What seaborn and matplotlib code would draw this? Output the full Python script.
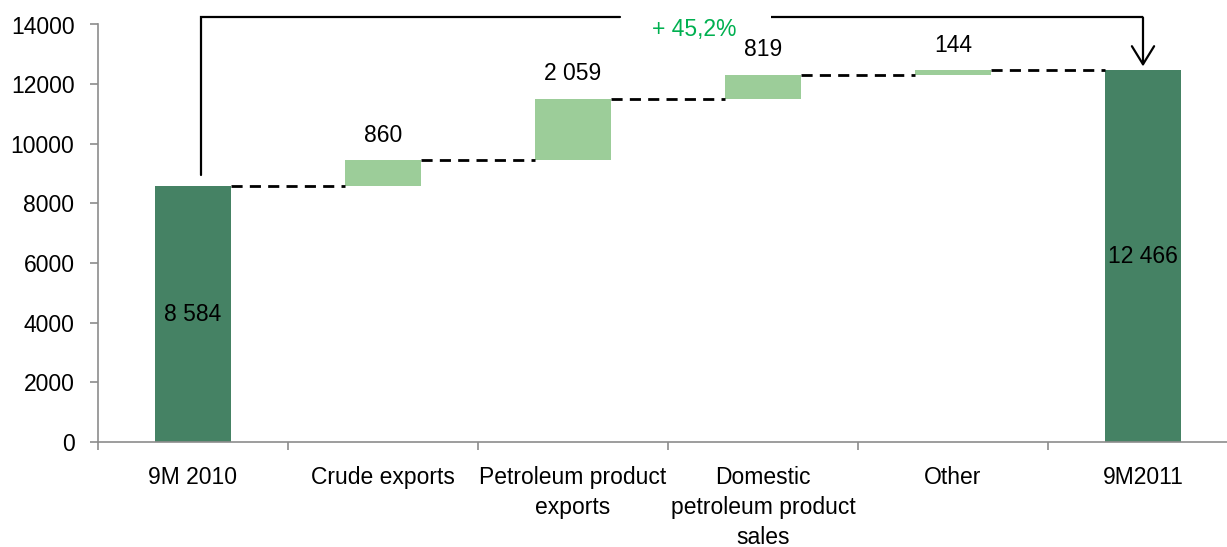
import numpy as np
import pandas as pd
import matplotlib
matplotlib.use("Agg")
import matplotlib.pyplot as plt
from matplotlib.ticker import FixedLocator
import seaborn as sns

# Revenue bridge, 9M 2010 -> 9M 2011
categories = ["9M 2010", "Crude exports", "Petroleum product\nexports",
              "Domestic\npetroleum product\nsales", "Other", "9M2011"]
start_total = 8584
changes = [860, 2059, 819, 144]
end_total = 12466
y_ticks = [0, 2000, 4000, 6000, 8000, 10000, 12000, 14000]

heights = [start_total] + changes + [end_total]
running = np.cumsum([start_total] + changes)          # level after each step
bottoms = [0] + list(running[:-1]) + [0]
is_total = [True] + [False] * len(changes) + [True]

dark_green = "#458264"
light_green = "#9ccd99"
axis_grey = "#8c8c8c"
fs = 16.5

sns.set_style("ticks")
plt.rcParams["font.family"] = ["Liberation Sans", "DejaVu Sans"]
plt.rcParams["font.size"] = fs
plt.rcParams["text.color"] = "black"
plt.rcParams["xtick.labelcolor"] = "black"
plt.rcParams["ytick.labelcolor"] = "black"

df = pd.DataFrame({"category": categories, "value": heights})

fig = plt.figure(figsize=(12.27, 5.47), dpi=100)
ax = fig.add_axes([98 / 1227, 105 / 547, 1140 / 1227, 417.5 / 547])

sns.barplot(data=df, x="category", y="value", order=categories,
            bottom=bottoms, width=0.4, errorbar=None, color=dark_green,
            saturation=1, ax=ax)
for patch, total in zip(ax.patches, is_total):
    patch.set_facecolor(dark_green if total else light_green)
    patch.set_edgecolor("none")

half = 0.2
# dashed connectors between consecutive bars
for i, level in enumerate(running):
    ax.plot([i + half, i + 1 - half], [level, level], color="black",
            lw=2, dashes=(4, 2.6), solid_capstyle="butt")

# value labels
for i, (h, b, total) in enumerate(zip(heights, bottoms, is_total)):
    text = f"{h:,}".replace(",", " ")
    if total:
        ax.text(i, b + h / 2, text, ha="center", va="center", fontsize=fs,
                color="black")
    else:
        ax.annotate(text, xy=(i, b + h), xytext=(0, 18), textcoords="offset points",
                    ha="center", va="center", fontsize=fs, color="black")

# growth bracket from the first total to the last
growth = end_total / start_total - 1
y_top = 14235
x_left, x_right = 0.04, 5.0
ax.plot([x_left, x_left, 2.25], [start_total + 370, y_top, y_top],
        color="black", lw=1.6, clip_on=False, solid_joinstyle="miter")
ax.plot([3.04, x_right], [y_top, y_top], color="black", lw=1.6, clip_on=False,
        solid_capstyle="butt")
ax.annotate("", xy=(x_right, end_total + 130), xytext=(x_right, y_top),
            arrowprops=dict(arrowstyle="->,head_length=1.3,head_width=0.8",
                            mutation_scale=10, lw=1.6, color="black",
                            shrinkA=0, shrinkB=0),
            annotation_clip=False)
ax.text(2.64, 13820, f"+ {growth * 100:.1f}%".replace(".", ","), ha="center",
        va="center", color="#00b050", fontsize=fs, clip_on=False)

# axes styling
ax.set_xlim(-0.5, len(categories) - 0.5)
ax.set_ylim(0, 14000)
ax.set_yticks(y_ticks)
ax.set_yticklabels([str(t) for t in y_ticks])
ax.set_xlabel("")
ax.set_ylabel("")
ax.xaxis.set_minor_locator(FixedLocator(np.arange(-0.5, len(categories) - 0.5, 1.0)))
ax.tick_params(axis="x", which="major", length=0, pad=17, labelsize=fs,
               labelcolor="black")
ax.tick_params(axis="x", which="minor", length=6, width=1.2, color=axis_grey)
ax.tick_params(axis="y", length=6, width=1.2, color=axis_grey, pad=11,
               labelsize=fs, labelcolor="black")
for lbl in ax.get_xticklabels():
    lbl.set_linespacing(1.4)
for side in ("top", "right"):
    ax.spines[side].set_visible(False)
for side in ("left", "bottom"):
    ax.spines[side].set_color(axis_grey)
    ax.spines[side].set_linewidth(1.2)

fig.savefig("out.png", dpi=100)
